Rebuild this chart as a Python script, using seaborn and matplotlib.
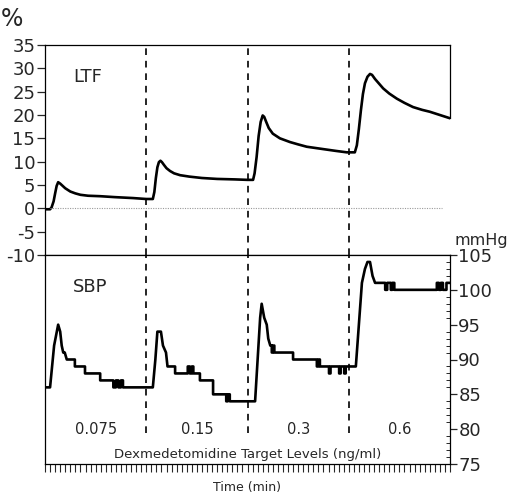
import numpy as np
import pandas as pd
import matplotlib
matplotlib.use("Agg")
import matplotlib.pyplot as plt
import seaborn as sns

# ---------------- data ----------------
ltf_t = [0, 1.0, 1.3, 1.7, 2.0, 2.3, 2.6, 3.0, 3.5, 4.0, 5.0, 6.0, 7.0, 8.5, 10.9,
         13.8, 17.4, 20.0,
         21.3, 21.6, 21.9, 22.2, 22.5, 22.8, 23.1, 23.5, 24.0, 24.7, 25.5, 26.7,
         28.5, 31.0, 34.0, 37.5, 40.0,
         41.1, 41.4, 41.8, 42.2, 42.6, 43.0, 43.3, 43.7, 44.2, 45.0, 46.4, 48.4,
         50.0, 51.7, 54.9, 57.5, 59.6, 60.0,
         61.2, 61.6, 62.0, 62.4, 62.8, 63.2, 63.7, 64.2, 64.6, 65.2, 66.0, 66.8,
         68.0, 69.5, 71.0, 72.7, 74.5, 76.0, 78.0, 80.0]
ltf_v = [-0.2, -0.2, 0.2, 1.5, 3.2, 4.8, 5.6, 5.3, 4.8, 4.3, 3.6, 3.2, 2.9, 2.7, 2.6,
         2.4, 2.2, 2.0,
         2.0, 3.5, 6.5, 8.8, 9.9, 10.2, 9.9, 9.3, 8.6, 8.0, 7.5, 7.1,
         6.8, 6.5, 6.3, 6.2, 6.1,
         6.1, 7.5, 11.0, 15.5, 18.5, 19.9, 19.6, 18.5, 17.2, 16.0, 15.0, 14.2,
         13.7, 13.2, 12.7, 12.3, 12.0, 12.0,
         12.0, 13.5, 17.0, 21.0, 24.5, 26.8, 28.2, 28.8, 28.6, 27.7, 26.7, 25.7,
         24.6, 23.5, 22.6, 21.7, 21.1, 20.7, 20.0, 19.3]

sbp_t = [0, 1.0, 1.8, 2.6, 3.0, 3.3, 3.6, 3.9, 4.3, 5.9, 5.9, 7.9, 7.9, 10.9, 10.9,
         13.5, 13.5, 14.0, 14.0, 14.5, 14.5, 15.0, 15.0, 15.4, 15.4, 20.0,
         21.3, 21.8, 22.2, 22.9, 23.3, 23.9, 24.2, 25.7, 25.7, 28.2, 28.2, 28.6, 28.6,
         29.0, 29.0, 29.3, 29.3, 30.6, 30.6, 33.2, 33.2, 35.8, 35.8, 36.1, 36.1,
         36.5, 36.5, 40.0,
         41.5, 42.0, 42.5, 42.8, 43.3, 43.8, 44.1, 44.5, 44.8, 44.8, 45.0, 45.0,
         45.3, 45.3, 49.0, 49.0, 53.7, 53.7, 54.0, 54.0, 54.3, 54.3, 56.1, 56.1,
         56.4, 56.4, 58.1, 58.1, 58.4, 58.4, 59.1, 59.1, 59.4, 59.4, 60.0,
         61.4, 62.0, 62.6, 63.2, 63.7, 64.2, 64.7, 65.2, 67.2, 67.2, 67.6, 67.6,
         68.3, 68.3, 68.6, 68.6, 69.0, 69.0, 77.4, 77.4, 77.8, 77.8, 78.2, 78.2,
         78.6, 78.6, 79.3, 79.3, 80.0]
sbp_v = [86, 86, 92, 95, 94, 92, 91, 91, 90, 90, 89, 89, 88, 88, 87,
         87, 86, 86, 87, 87, 86, 86, 87, 87, 86, 86,
         86, 90, 94, 94, 92, 91, 89, 89, 88, 88, 89, 89, 88,
         88, 89, 89, 88, 88, 87, 87, 85, 85, 84, 84, 85,
         85, 84, 84,
         84, 90, 96, 98, 96, 95, 93, 92, 92, 91, 91, 92,
         92, 91, 91, 90, 90, 89, 89, 90, 90, 89, 89, 88,
         88, 89, 89, 88, 88, 89, 89, 88, 88, 89, 89,
         89, 95, 101, 103, 104, 104, 102, 101, 101, 100, 100, 101,
         101, 100, 100, 101, 101, 100, 100, 101, 101, 100, 100, 101,
         101, 100, 100, 101, 101]

boundaries = [20, 40, 60]
dose_labels = ["0.075", "0.15", "0.3", "0.6"]
dose_centers = [10, 30, 50, 70]
ltf_ticks = [-10, -5, 0, 5, 10, 15, 20, 25, 30, 35]
sbp_ticks = [75, 80, 85, 90, 95, 100, 105]

ltf_df = pd.DataFrame({"t": ltf_t, "v": ltf_v})
sbp_df = pd.DataFrame({"t": sbp_t, "v": sbp_v})

# ---------------- figure ----------------
sns.set_theme(style="white")
plt.rcParams["font.family"] = ["DejaVu Sans"]
W, H = 509, 499
fig = plt.figure(figsize=(W / 100, H / 100), dpi=100)
L, R = 45 / W, 450 / W
ax1 = fig.add_axes([L, (H - 255) / H, R - L, 210 / H])
ax2 = fig.add_axes([L, (H - 464) / H, R - L, 209 / H])

for ax in (ax1, ax2):
    ax.set_xlim(0, 80)
    ax.set_facecolor("white")
    for s in ax.spines.values():
        s.set_color("black")
        s.set_linewidth(0.9)

# top panel
sns.lineplot(data=ltf_df, x="t", y="v", ax=ax1, estimator=None, sort=False,
             color="black", linewidth=1.9)
ax1.set_ylim(-10, 35)
ax1.set_yticks(ltf_ticks)
ax1.set_yticklabels([str(v) for v in ltf_ticks], fontsize=13)
ax1.tick_params(axis="y", direction="out", length=6, width=0.9, pad=1, left=True)
ax1.set_xticks([])
ax1.set_xlabel("")
ax1.set_ylabel("")
ax1.spines["right"].set_bounds(19.4, 35)
ax1.plot([1, 78.5], [0, 0], color="#9a9a9a", linestyle=(0, (1, 1.2)), linewidth=0.8)
for b in boundaries:
    ax1.axvline(b, color="black", linewidth=1.2, linestyle=(0, (4, 3.5)))
ax1.text(5.5, 28.1, "LTF", fontsize=13, ha="left", va="center")

# bottom panel
sns.lineplot(data=sbp_df, x="t", y="v", ax=ax2, estimator=None, sort=False,
             color="black", linewidth=1.9)
ax2.set_ylim(75, 105)
ax2.yaxis.tick_right()
ax2.set_yticks(sbp_ticks)
ax2.set_yticklabels([str(v) for v in sbp_ticks], fontsize=13)
ax2.set_yticks(np.arange(75, 106, 1), minor=True)
ax2.tick_params(axis="y", which="major", direction="out", length=5, width=0.9, pad=1,
                right=True, left=False)
ax2.tick_params(axis="y", which="minor", direction="in", length=3, width=0.7,
                right=True, left=False)
ax2.set_xticks(np.arange(0, 81, 1))
ax2.set_xticklabels([])
ax2.tick_params(axis="x", direction="out", length=6, width=0.8, bottom=True)
ax2.set_xlabel("")
ax2.set_ylabel("")
for b in boundaries:
    ax2.vlines(b, 79.5, 105, color="black", linewidth=1.2, linestyle=(0, (4, 3.5)))
ax2.text(5.5, 100.4, "SBP", fontsize=13, ha="left", va="center")
for c, lab in zip(dose_centers, dose_labels):
    ax2.text(c, 79.9, lab, fontsize=10.5, ha="center", va="center")
ax2.text(40, 76.3, "Dexmedetomidine Target Levels (ng/ml)", fontsize=9.5,
         ha="center", va="center")

fig.text(247 / W, 1 - 488 / H, "Time (min)", fontsize=9, ha="center", va="center")
fig.text(12 / W, 1 - 19 / H, "%", fontsize=17, ha="center", va="center")
fig.text(454 / W, 1 - 240 / H, "mmHg", fontsize=11.5, ha="left", va="center")

fig.savefig("out.png", dpi=100, facecolor="white")
